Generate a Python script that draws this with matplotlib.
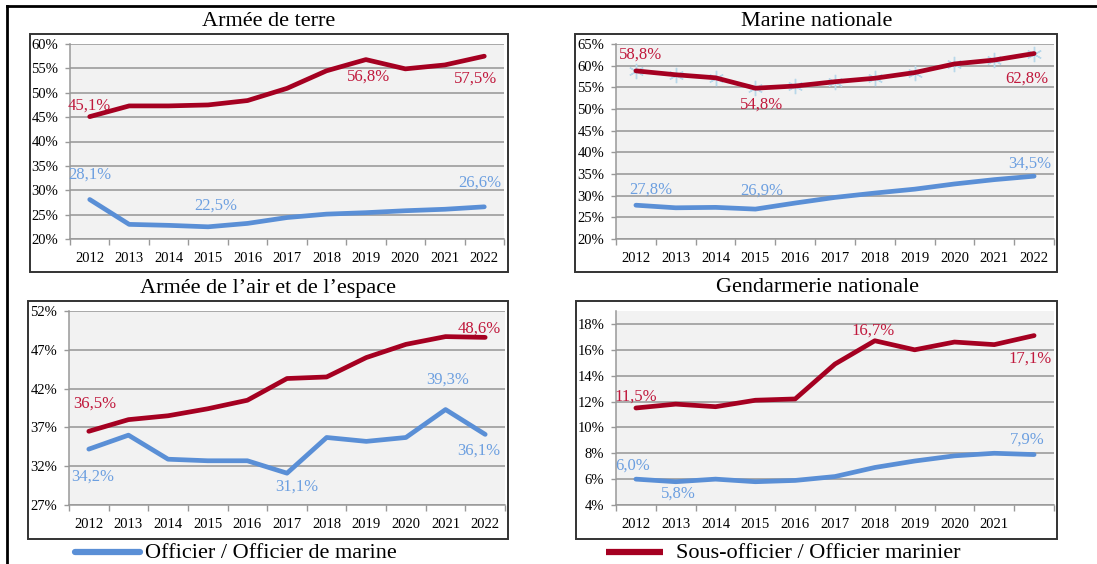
import numpy as np
import matplotlib
matplotlib.use('Agg')
import matplotlib.pyplot as plt
from matplotlib.patches import Rectangle
from matplotlib.lines import Line2D

plt.rcParams['font.family'] = ['Liberation Serif', 'DejaVu Serif']

years = ['2012', '2013', '2014', '2015', '2016', '2017', '2018', '2019', '2020', '2021', '2022']

terre_off = [28.1, 23.0, 22.8, 22.5, 23.2, 24.4, 25.1, 25.4, 25.8, 26.1, 26.6]
terre_sous = [45.1, 47.3, 47.3, 47.5, 48.4, 50.9, 54.5, 56.8, 54.9, 55.7, 57.5]
marine_off = [27.8, 27.2, 27.3, 26.9, 28.3, 29.6, 30.6, 31.5, 32.7, 33.7, 34.5]
marine_sous = [58.8, 57.9, 57.2, 54.8, 55.3, 56.3, 57.1, 58.4, 60.4, 61.3, 62.8]
air_off = [34.2, 36.0, 32.9, 32.7, 32.7, 31.1, 35.7, 35.2, 35.7, 39.3, 36.1]
air_sous = [36.5, 38.0, 38.5, 39.4, 40.5, 43.3, 43.5, 46.0, 47.7, 48.7, 48.6]
gend_off = [6.0, 5.8, 6.0, 5.8, 5.9, 6.2, 6.9, 7.4, 7.8, 8.0, 7.9]
gend_sous = [11.5, 11.8, 11.6, 12.1, 12.2, 14.9, 16.7, 16.0, 16.6, 16.4, 17.1]

titles = ['Armée de terre', 'Marine nationale', "Armée de l’air et de l’espace", 'Gendarmerie nationale']
legend_labels = ['Officier / Officier de marine', 'Sous-officier / Officier marinier']

RED = '#A50021'
BLUE = '#5A8FD6'
RED_TXT = '#C0183C'
BLUE_TXT = '#6C9FE0'

W, H = 1097, 564
fig = plt.figure(figsize=(W / 100, H / 100), dpi=100)


def fx(x):
    return x / W


def fy(y):
    return 1 - y / H


def box(x0, y0, x1, y1, lw=1.4, color='#333333'):
    fig.add_artist(Rectangle((fx(x0), fy(y1)), fx(x1) - fx(x0), fy(y0) - fy(y1),
                             transform=fig.transFigure, fill=False, ec=color, lw=lw))


# outer frame (top + left)
fig.add_artist(Line2D([fx(7), fx(1097)], [fy(6), fy(6)], transform=fig.transFigure, color='black', lw=2))
fig.add_artist(Line2D([fx(7), fx(7)], [fy(6), fy(564)], transform=fig.transFigure, color='black', lw=2))

# panel layout: axes rect px (x0, y0, x1, y1), box px, title center
panels = [
    dict(ax=(70, 44, 504, 239), box=(30, 34, 508, 272), title=(269, 22),
         off=terre_off, sous=terre_sous, ylim=(20, 60), yt=np.arange(20, 61, 5), marker=False,
         lab_sous=[(0, 0, 11), (7, 3, -17), (10, -9, -22)],
         lab_off=[(0, 0, 25), (3, 8, 21), (10, -4, 24)]),
    dict(ax=(616, 44, 1054, 239), box=(575, 34, 1057, 272), title=(817, 22),
         off=marine_off, sous=marine_sous, ylim=(20, 65), yt=np.arange(20, 66, 5), marker=True,
         lab_sous=[(0, 5, 16), (3, 6, -16), (10, -7, -25)],
         lab_off=[(0, 15, 16), (3, 6, 18), (10, -4, 13)]),
    dict(ax=(69, 311, 505, 505), box=(28, 301, 508, 539), title=(268, 288),
         off=air_off, sous=air_sous, ylim=(27, 52), yt=np.arange(27, 53, 5), marker=False,
         lab_sous=[(0, 6, 28), (10, -6, 9)],
         lab_off=[(0, 4, -28), (5, 10, -13), (9, 2, 30), (10, -6, -16)]),
    dict(ax=(616, 311, 1054, 505), box=(576, 301, 1057, 539), title=(817, 288),
         off=gend_off, sous=gend_sous, ylim=(4, 19), yt=np.arange(4, 19, 2), marker=False,
         lab_sous=[(0, 0, 11), (6, -2, 10), (10, -4, -23)],
         lab_off=[(0, -3, 13), (1, 3, -12), (10, -7, 15)]),
]

x = np.arange(len(years))

for i, p in enumerate(panels):
    x0, y0, x1, y1 = p['ax']
    ax = fig.add_axes([fx(x0), fy(y1), fx(x1) - fx(x0), fy(y0) - fy(y1)])
    box(*p['box'])
    fig.text(fx(p['title'][0]), fy(p['title'][1]), titles[i], ha='center', va='center', fontsize=16)

    ax.set_facecolor('#F2F2F2')
    ax.set_xlim(-0.5, len(years) - 0.5)
    ax.set_ylim(*p['ylim'])
    ax.set_yticks(p['yt'])
    ax.set_yticklabels([f'{v}%' for v in p['yt']])
    ax.set_xticks(x)
    if i == 3:
        ax.set_xticklabels(years[:-1] + [''])
    else:
        ax.set_xticklabels(years)
    ax.set_xticks(np.arange(-0.5, len(years), 1), minor=True)
    ax.tick_params(axis='x', which='major', length=0, pad=9, labelsize=10.5)
    ax.tick_params(axis='x', which='minor', length=4, color='#999999', width=1)
    ax.tick_params(axis='y', length=3.5, color='#999999', width=1, pad=5, labelsize=10.5)
    ax.grid(axis='y', color='#959595', lw=1.1)
    ax.set_axisbelow(True)
    for s in ['top', 'right']:
        ax.spines[s].set_visible(False)
    for s in ['left', 'bottom']:
        ax.spines[s].set_color('#999999')
        ax.spines[s].set_linewidth(1.1)

    ax.plot(x, p['off'], color=BLUE, lw=3.4, solid_capstyle='round', solid_joinstyle='round', zorder=3)
    if p['marker']:
        ax.plot(x, p['sous'], ls='none', marker=(6, 2, 0), ms=11, mec='#B8D8EA', mew=1, zorder=2)
    ax.plot(x, p['sous'], color=RED, lw=3.4, solid_capstyle='round', solid_joinstyle='round', zorder=3)

    for k, dx, dy in p['lab_sous']:
        v = p['sous'][k]
        ax.annotate(f'{v:.1f}%'.replace('.', ','), (x[k], v), xytext=(dx, dy), textcoords='offset pixels',
                    ha='center', va='center', color=RED_TXT, fontsize=12, zorder=4)
    for k, dx, dy in p['lab_off']:
        v = p['off'][k]
        ax.annotate(f'{v:.1f}%'.replace('.', ','), (x[k], v), xytext=(dx, dy), textcoords='offset pixels',
                    ha='center', va='center', color=BLUE_TXT, fontsize=12, zorder=4)

# legend
fig.add_artist(Line2D([fx(75), fx(140)], [fy(552), fy(552)], transform=fig.transFigure,
                      color=BLUE, lw=4.5, solid_capstyle='round'))
fig.text(fx(145), fy(553), legend_labels[0], ha='left', va='center', fontsize=16)
fig.add_artist(Line2D([fx(606), fx(663)], [fy(552), fy(552)], transform=fig.transFigure,
                      color=RED, lw=4.5, solid_capstyle='butt'))
fig.text(fx(676), fy(553), legend_labels[1], ha='left', va='center', fontsize=16)

fig.savefig('out.png', dpi=100)
